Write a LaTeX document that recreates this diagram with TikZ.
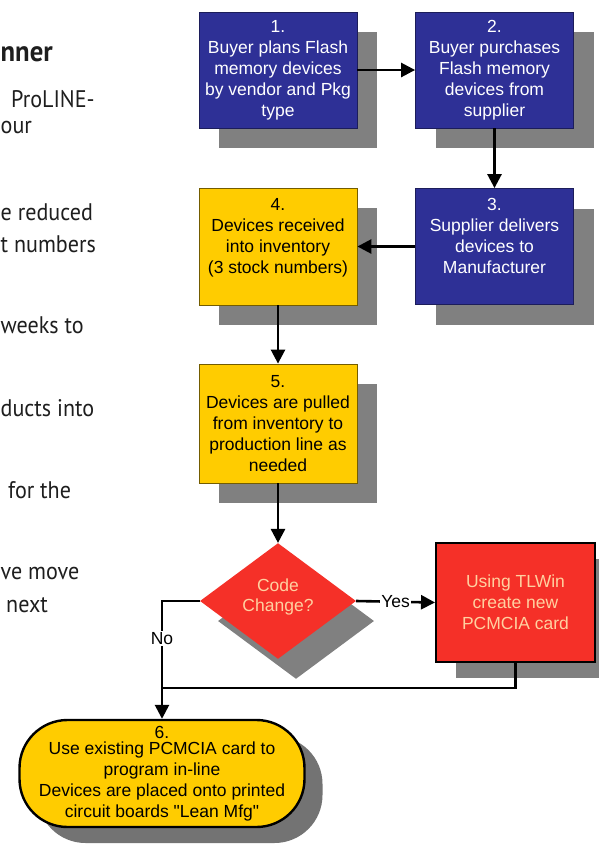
\documentclass[tikz,border=0pt]{standalone}
\usepackage{fontspec}
\setmainfont{Liberation Sans}
\newfontfamily\leftfont[FakeStretch=0.92]{PT Sans}
\usetikzlibrary{shapes.geometric,arrows.meta,shadows}
\definecolor{bluebox}{RGB}{46,48,150}
\definecolor{yelbox}{RGB}{255,204,0}
\definecolor{redbox}{RGB}{245,48,40}
\definecolor{shadowgray}{RGB}{128,128,128}
\definecolor{paletext}{RGB}{255,208,160}
\definecolor{lefttext}{RGB}{30,30,30}
\begin{document}
\begin{tikzpicture}[x=1pt,y=-1pt,
  shd/.style={drop shadow={shadow xshift=#1,shadow yshift=-20pt,fill=shadowgray,opacity=1}},
  shd/.default=20pt,
  boxtext/.style={align=center,font=\fontsize{17.5}{21}\selectfont,inner sep=0pt},
  bluestep/.style={boxtext,shd,rectangle,fill=bluebox,draw=bluebox!60!black,line width=0.8pt,text=white,minimum width=158pt,minimum height=116pt},
  yelstep/.style={boxtext,shd,rectangle,fill=yelbox,draw=yelbox!45!black,line width=0.8pt,text=black,minimum width=158pt,minimum height=117pt},
  conn/.style={line width=2.6pt,-{Triangle[length=14pt,width=14pt]}},
  plain/.style={line width=2.6pt},
  lbl/.style={fill=white,inner sep=1.5pt,font=\fontsize{17.5}{20}\selectfont},
  lt/.style={anchor=west,inner sep=0pt,text=lefttext,font=\leftfont\fontsize{24}{28}\selectfont}
]
\useasboundingbox (0,0) rectangle (598,847);
\fill[white] (0,0) rectangle (598,847);

% left-hand text (as far as the picture shows it)
\node[lt,font=\leftfont\bfseries\fontsize{29}{32}\selectfont] (t1) at (0.5,54) {nner};
\node[lt] (t2) at (11,99) {ProLINE-};
\node[lt] (t3) at (0.5,127) {our};
\node[lt] (t4) at (0.5,212) {e reduced};
\node[lt] (t5) at (0.5,244) {t numbers};
\node[lt] (t6) at (0.5,325) {weeks to};
\node[lt] (t7) at (0.5,408) {ducts into};
\node[lt] (t8) at (8,490) {for the};
\node[lt] (t9) at (0.5,573) {ve move};
\node[lt] (t10) at (6,605) {next};

% process boxes
\node[bluestep] (b1) at (278,70) {1.\\Buyer plans Flash\\memory devices\\by vendor and Pkg\\type};
\node[bluestep] (b2) at (494.5,70) {2.\\Buyer purchases\\Flash memory\\devices from\\supplier};
\node[bluestep] (b3) at (494.5,246.5) {3.\\Supplier delivers\\devices to\\Manufacturer\\[0pt]};
\node[yelstep] (b4) at (278,246.5) {4.\\Devices received\\into inventory\\(3 stock numbers)\\[0pt]};
\node[yelstep,minimum height=119pt] (b5) at (278,423.5) {5.\\Devices are pulled\\from inventory to\\production line as\\needed};

% decision
\node[diamond,shd=18pt,fill=redbox,minimum width=156pt,minimum height=115pt,inner sep=0pt,
      align=center,text=paletext,font=\fontsize{17.5}{20}\selectfont] (dec) at (278,601) {Code\\Change?\\[-8pt]};

% red action box
\node[boxtext,rectangle,drop shadow={shadow xshift=20pt,shadow yshift=-16pt,fill=shadowgray,opacity=1},
      fill=redbox,draw=black,line width=2pt,text=paletext,minimum width=159pt,minimum height=119pt] (red) at (515.5,602.5)
      {Using TLWin\\create new\\PCMCIA card};

% final oval
\node[boxtext,rectangle,rounded corners=48pt,drop shadow={shadow xshift=18pt,shadow yshift=-16pt,fill=shadowgray!90!black,opacity=1},
      fill=yelbox,draw=black,line width=2.4pt,text=black,minimum width=285pt,minimum height=107pt] (ov) at (162,773.5)
      {6.\\[-5pt]Use existing PCMCIA card to\\program in-line\\Devices are placed onto printed\\circuit boards \textquotedbl Lean Mfg\textquotedbl};

\coordinate (join) at (162,688);

% connectors
\draw[conn] (b1) -- (b2);
\draw[conn] (b2) -- (b3);
\draw[conn] (b3) -- (b4);
\draw[conn] (b4) -- (b5);
\draw[conn] (b5) -- (dec);
\draw[conn] (dec.east) -- node[lbl] {Yes} (red.west);
\draw[plain] (red.south) |- (join);
\draw[conn] (dec.west) -| node[lbl,pos=0.66] {No} (ov.north);
\end{tikzpicture}
\end{document}
